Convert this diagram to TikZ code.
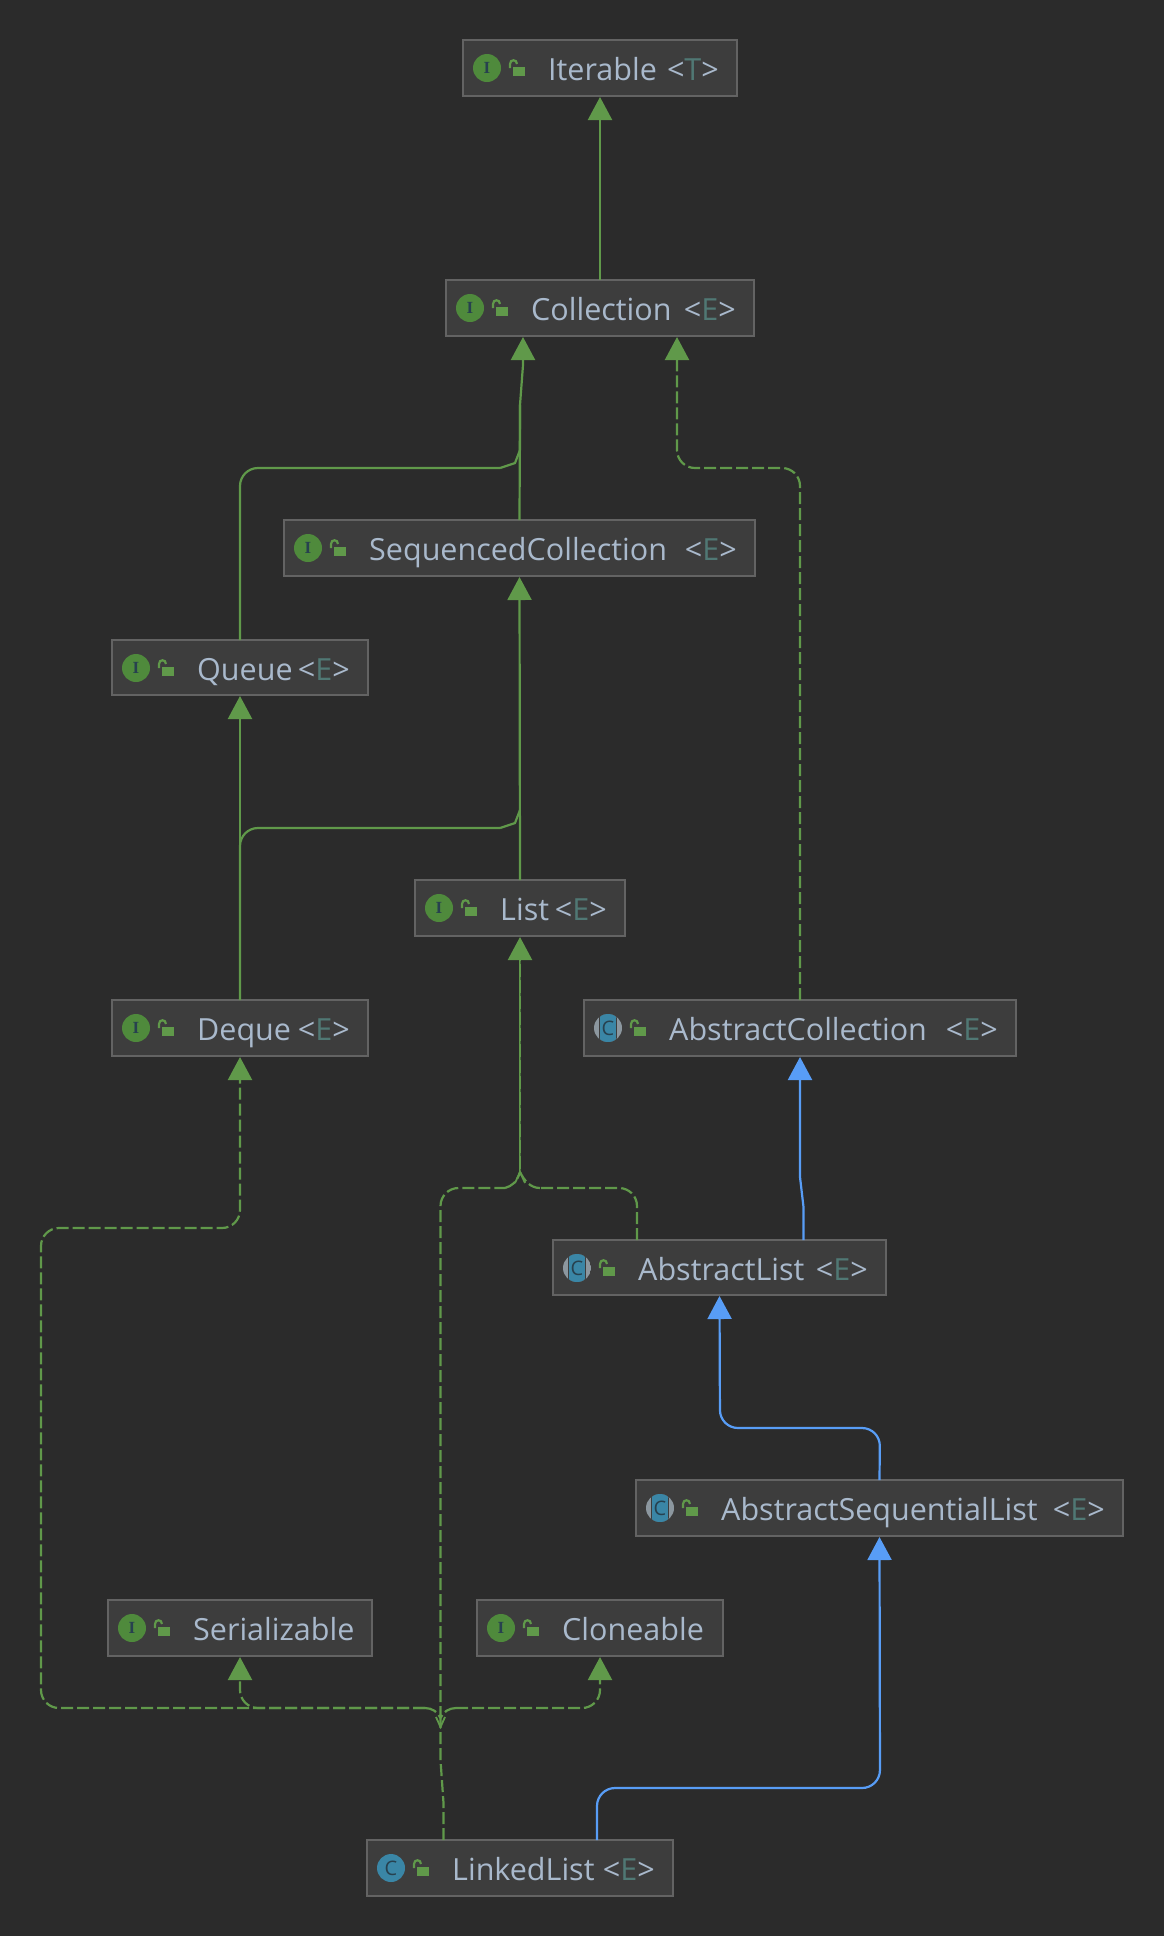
\documentclass[tikz,border=0pt]{standalone}
\usepackage{fontspec}
\setmainfont{Open Sans}
\newfontfamily\serifI{Liberation Serif}
\usetikzlibrary{arrows.meta}
\definecolor{bgc}{HTML}{2B2B2B}
\definecolor{boxfill}{HTML}{3D3D3D}
\definecolor{boxline}{HTML}{636363}
\definecolor{txt}{HTML}{A9B9CC}
\definecolor{par}{HTML}{507874}
\definecolor{grn}{HTML}{60994A}
\definecolor{stemdark}{HTML}{47703A}
\definecolor{blu}{HTML}{589DF6}
\definecolor{igreen}{HTML}{4F8A3C}
\definecolor{iblue}{HTML}{3A86A6}
\definecolor{idark}{HTML}{27414F}
\definecolor{igray}{HTML}{8C979F}
\tikzset{
  x=1pt,y=-1pt,
  classbox/.style={draw=boxline,fill=boxfill,line width=1.1pt,inner sep=0pt,outer sep=0pt},
  nametext/.style={anchor=base west,text=txt,inner sep=0pt,font=\fontsize{30.5}{32}\selectfont},
  partext/.style={anchor=base east,text=txt,inner sep=0pt,font=\fontsize{30.5}{32}\selectfont},
  iconI/.style={circle,fill=igreen,minimum size=28pt,inner sep=0pt,text=idark,font=\serifI\bfseries\fontsize{17}{17}\selectfont},
  iconC/.style={circle,fill=iblue,minimum size=28pt,inner sep=0pt,text=idark,font=\fontsize{20}{20}\selectfont},
  iconA/.style={circle,inner sep=0pt,minimum size=28pt,text=idark,font=\fontsize{20}{20}\selectfont},
  lockp/.style={draw=grn,line width=2.2pt},
  inh/.style={draw=grn,line width=2.2pt,-{Triangle[width=24pt,length=23pt]},shorten >=1pt,rounded corners=18pt},
  inhd/.style={inh,dash pattern=on 12pt off 4pt},
  plainline/.style={draw=grn,line width=2.2pt,rounded corners=18pt},
  ext/.style={draw=blu,line width=2.2pt,-{Triangle[width=24pt,length=23pt]},shorten >=1pt,rounded corners=18pt},
  branch/.style={draw=grn,line width=2.2pt,dash pattern=on 12pt off 4pt,rounded corners=18pt},
  barrow/.style={draw=grn,line width=1.8pt},
}
% name, x0, y0, x1, y1, kind, label, type parameter
\newcommand\classnode[8]{%
  \pgfmathsetmacro\bw{#4-#2}\pgfmathsetmacro\bh{#5-#3}%
  \begin{scope}[shift={(#2,#3)}]
    \node[classbox,minimum width=\bw pt,minimum height=\bh pt] (#1) at (\bw/2,\bh/2) {};
    \ifx#6A
      \begin{scope}
        \clip (24,28) circle (14);
        \fill[igray] (10,14) rectangle (38,42);
        \fill[boxfill] (15.2,14) rectangle (32.8,42);
        \fill[iblue] (16,14) rectangle (32,42);
      \end{scope}
      \node[iconA] (#1icon) at (24,28) {C};
    \else
      \node[icon#6] (#1icon) at (24,28) {#6};
    \fi
    \fill[grn] (50,27) rectangle (62,36);
    \draw[lockp] (47,28) -- (47,24) .. controls (47,19) and (54,19) .. (54,24);
    \node[nametext] (#1name) at (85,40) {#7};
    \if\relax\detokenize{#8}\relax\else
      \node[partext] (#1par) at (\bw-18,40) {<{\color{par}#8}>};
    \fi
  \end{scope}}
\begin{document}
\begin{tikzpicture}
\fill[bgc] (0,0) rectangle (1164,1936);
\useasboundingbox (0,0) rectangle (1164,1936);

\coordinate (collL) at (523,336);
\coordinate (collR) at (677,336);
\coordinate (qA) at (240,468);
\coordinate (qB) at (500,468);
\coordinate (qC) at (515,463);
\coordinate (qD) at (520,450);
\coordinate (qE) at (520,405);
\coordinate (qF) at (523,365);
\coordinate (dA) at (240,828);
\coordinate (dB) at (500,828);
\coordinate (dC) at (515,823);
\coordinate (dD) at (520,810);
\coordinate (acA) at (800,468);
\coordinate (acB) at (677,468);
\coordinate (alA) at (803.5,1207);
\coordinate (alB) at (800,1177);
\coordinate (jList) at (520,1172);
\coordinate (lA) at (637,1188);
\coordinate (lB) at (540,1188);
\coordinate (lC) at (440.5,1188);
\coordinate (lD) at (505,1188);
\coordinate (lkA) at (443.5,1803);
\coordinate (lkB) at (440.5,1760);
\coordinate (jLink) at (440.5,1718);
\coordinate (hL) at (425,1708);
\coordinate (hR) at (456,1708);
\coordinate (sA) at (240,1708);
\coordinate (cA) at (600,1708);
\coordinate (farA) at (41,1708);
\coordinate (farB) at (41,1228);
\coordinate (farC) at (240,1228);
\coordinate (bA) at (597,1788);
\coordinate (bB) at (880,1788);
\coordinate (bC) at (880,1428);
\coordinate (bD) at (720,1428);
\coordinate (abUp) at (803.5,1240);
\coordinate (alUp) at (637,1240);

\classnode{iterable}{463}{40}{737}{96}{I}{Iterable}{T}
\classnode{collection}{446}{280}{754}{336}{I}{Collection}{E}
\classnode{seqcoll}{284}{520}{755}{576}{I}{SequencedCollection}{E}
\classnode{queue}{112}{640}{368}{695}{I}{Queue}{E}
\classnode{list}{415}{880}{625}{936}{I}{List}{E}
\classnode{deque}{112}{1000}{368}{1056}{I}{Deque}{E}
\classnode{abscoll}{584}{1000}{1016}{1056}{A}{AbstractCollection}{E}
\classnode{abslist}{553}{1240}{886}{1295}{A}{AbstractList}{E}
\classnode{absseq}{636}{1480}{1123}{1536}{A}{AbstractSequentialList}{E}
\classnode{serial}{108}{1600}{372}{1656}{I}{Serializable}{}
\classnode{clone}{477}{1600}{723}{1656}{I}{Cloneable}{}
\classnode{linked}{367}{1840}{673}{1896}{C}{LinkedList}{E}

\draw[inh] (collection.north) -- (iterable.south);
\draw[inh,rounded corners=0pt] (seqcoll.north) -- (qE) -- (qF) -- (collL);
\draw[plainline] (queue.north) -- (qA) -- (qB);
\draw[plainline,rounded corners=0pt] (qB) -- (qC) -- (qD) -- (qE);
\draw[inhd] (abscoll.north) -- (acA) -- (acB) -- (collR);
\draw[inh] (deque.north) -- (queue.south);
\draw[plainline] (deque.north) -- (dA) -- (dB);
\draw[plainline,rounded corners=0pt] (dB) -- (dC) -- (dD);
\draw[inh] (list.north) -- (seqcoll.south);
\draw[ext,rounded corners=0pt] (abUp) -- (alA) -- (alB) -- (abscoll.south);
\draw[ext] (absseq.north) -- (bC) -- (bD) -- (abslist.south);
\draw[ext] (linked.north -| bA) -- (bA) -- (bB) -- (absseq.south);

% AbstractList and LinkedList -> List
\draw[inh] (jList) -- (list.south);
\draw[draw=stemdark,line width=0.8pt,dash pattern=on 3pt off 13pt] (jList) -- (520,960);
\draw[branch] (alUp) -- (lA) -- (lB);
\draw[branch,rounded corners=0pt] (lB) .. controls (530,1188) and (524,1180) .. (jList);
\draw[branch] (jLink) -- (lC) -- (lD);
\draw[branch,rounded corners=0pt] (lD) .. controls (512,1186) and (517,1182) .. (jList);
\draw[barrow] (515,1183) -- (jList) -- (525,1183);

% LinkedList trunk and its branches
\draw[branch,rounded corners=0pt] (linked.north -| lkA) -- (lkA) -- (lkB) -- (jLink);
\draw[inhd] (hL) -- (farA) -- (farB) -- (farC) -- (deque.south);
\draw[inhd] (hL) -- (sA) -- (serial.south);
\draw[inhd] (hR) -- (cA) -- (clone.south);
\draw[branch,rounded corners=0pt] (hL) .. controls (432,1708) and (438,1712) .. (jLink);
\draw[branch,rounded corners=0pt] (hR) .. controls (449,1708) and (443,1712) .. (jLink);
\draw[barrow] (436,1717) -- (440.5,1727) -- (445,1717);
\end{tikzpicture}
\end{document}
